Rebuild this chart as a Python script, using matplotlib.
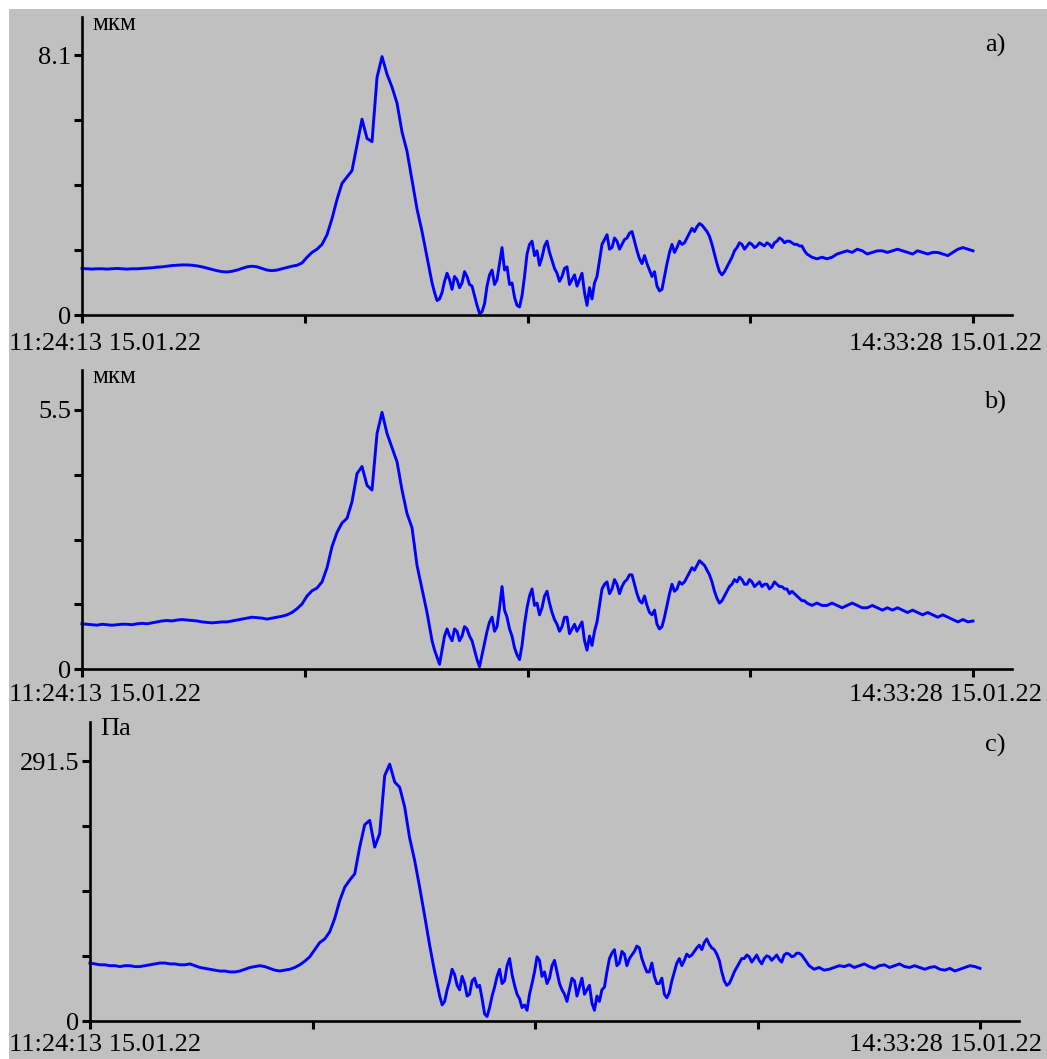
#!/usr/bin/env python3
"""Three stacked traces (two displacement channels and one pressure channel)
on a grey recorder-style background."""

import matplotlib

matplotlib.use("Agg")
import matplotlib.patches as patches
import matplotlib.pyplot as plt
import numpy as np

W, H = 1047, 1059
T_TOTAL = 11355.0  # 11:24:13 -> 14:33:28, seconds

START_LABEL = "11:24:13 15.01.22"
END_LABEL = "14:33:28 15.01.22"
PANEL_TAGS = ["a)", "b)", "c)"]
UNITS = ["мкм", "мкм", "Па"]
Y_MAX = [8.1, 5.5, 291.5]
Y_MAX_LABELS = ["8.1", "5.5", "291.5"]

# sample spans (s): quiet start + main pulse, noisy part (denser), calm tail
SEG_T = [(0.0, 4397.0), (4461.0, 9239.0), (9302.0, T_TOTAL)]

# ---- channel a, мкм
a_head = [
    1.45, 1.44, 1.43, 1.44, 1.44, 1.43, 1.44, 1.45, 1.44, 1.43, 1.44, 1.44, 1.45, 1.46,
    1.47, 1.49, 1.50, 1.52, 1.54, 1.55, 1.56, 1.56, 1.55, 1.53, 1.50, 1.46, 1.42, 1.38,
    1.35, 1.34, 1.36, 1.40, 1.45, 1.50, 1.52, 1.50, 1.45, 1.40, 1.38, 1.40, 1.44,
    1.48, 1.52, 1.55, 1.62, 1.80, 1.95, 2.05, 2.20, 2.50, 3.00, 3.60, 4.10, 4.30, 4.50,
    5.30, 6.10, 5.50, 5.40, 7.40, 8.05, 7.50, 7.10, 6.60, 5.70, 5.10, 4.20, 3.30, 2.60, 1.80,
]
a_mid = [
    1.00, 0.70, 0.45, 0.50, 0.70, 1.05, 1.30, 1.10, 0.80, 1.20, 1.10, 0.85, 1.00, 1.35,
    1.20, 0.95, 0.90, 0.60, 0.30, 0.05, 0.10, 0.35, 0.90, 1.25, 1.40, 0.95, 1.10, 1.60,
    2.10, 1.40, 1.50, 0.95, 1.00, 0.55, 0.30, 0.25, 0.60, 1.20, 1.90, 2.20, 2.30, 1.85,
    2.00, 1.55, 1.80, 2.15, 2.30, 1.95, 1.70, 1.45, 1.30, 1.05, 1.20, 1.45, 1.50, 0.95,
    1.10, 1.25, 0.90, 1.10, 1.30, 0.70, 0.30, 0.85, 0.50, 1.00, 1.20, 1.70, 2.20, 2.35,
    2.50, 2.05, 2.10, 2.40, 2.30, 2.05, 2.20, 2.35, 2.40, 2.55, 2.60, 2.30, 2.00, 1.75,
    1.60, 1.85, 1.60, 1.40, 1.20, 1.35, 0.90, 0.75, 0.80, 1.20, 1.60, 1.95, 2.20, 1.95,
    2.10, 2.30, 2.20, 2.25, 2.40, 2.55, 2.70, 2.60, 2.75, 2.85, 2.80, 2.70, 2.60, 2.45,
    2.20, 1.90, 1.60, 1.35, 1.25, 1.35, 1.50, 1.65, 1.80, 2.00, 2.10, 2.25, 2.20, 2.05,
    2.15, 2.25, 2.20, 2.10, 2.15, 2.25, 2.20, 2.15, 2.25, 2.20, 2.10, 2.25, 2.30, 2.40,
    2.35, 2.25, 2.30, 2.30, 2.25, 2.20, 2.20, 2.15, 2.15, 2.00, 1.90,
]
a_tail = [
    1.80, 1.75, 1.80, 1.75, 1.80, 1.90, 1.95, 2.00, 1.95, 2.05, 2.00, 1.90, 1.95, 2.00,
    2.00, 1.95, 2.00, 2.05, 2.00, 1.95, 1.90, 2.00, 1.95, 1.90, 1.95, 1.95, 1.90, 1.85,
    1.95, 2.05, 2.10, 2.05, 2.00,
]

# ---- channel b, мкм
b_head = [
    0.96, 0.95, 0.94, 0.93, 0.95, 0.94, 0.93, 0.94, 0.95, 0.95, 0.94, 0.96, 0.97, 0.96,
    0.98, 1.00, 1.02, 1.03, 1.02, 1.04, 1.05, 1.04, 1.03, 1.02, 1.00, 0.99, 0.98, 0.99,
    1.00, 1.00, 1.02, 1.04, 1.06, 1.08, 1.10, 1.09, 1.08, 1.06, 1.08, 1.10, 1.12,
    1.15, 1.20, 1.28, 1.38, 1.55, 1.66, 1.72, 1.85, 2.15, 2.60, 2.90, 3.10, 3.20, 3.55,
    4.15, 4.30, 3.90, 3.80, 5.00, 5.45, 5.00, 4.70, 4.40, 3.80, 3.30, 3.00, 2.20, 1.70, 1.20,
]
b_mid = [
    0.60, 0.40, 0.25, 0.10, 0.40, 0.70, 0.85, 0.70, 0.60, 0.85, 0.80, 0.60, 0.70, 0.90,
    0.85, 0.70, 0.60, 0.40, 0.20, 0.05, 0.30, 0.55, 0.80, 1.00, 1.10, 0.80, 0.90, 1.30,
    1.75, 1.25, 1.10, 0.85, 0.70, 0.45, 0.30, 0.20, 0.50, 0.95, 1.30, 1.55, 1.70, 1.35,
    1.40, 1.15, 1.30, 1.55, 1.65, 1.40, 1.20, 1.05, 0.95, 0.80, 0.90, 1.10, 1.10, 0.75,
    0.85, 0.95, 0.80, 0.90, 1.00, 0.60, 0.40, 0.70, 0.50, 0.80, 1.00, 1.35, 1.70, 1.80,
    1.85, 1.60, 1.70, 1.90, 1.80, 1.60, 1.75, 1.85, 1.90, 2.00, 2.00, 1.80, 1.60, 1.45,
    1.40, 1.55, 1.35, 1.20, 1.15, 1.25, 0.95, 0.85, 0.90, 1.10, 1.35, 1.60, 1.80, 1.65,
    1.70, 1.85, 1.80, 1.85, 1.95, 2.05, 2.15, 2.10, 2.20, 2.30, 2.25, 2.20, 2.10, 2.00,
    1.85, 1.65, 1.50, 1.40, 1.45, 1.55, 1.65, 1.75, 1.80, 1.90, 1.85, 1.95, 1.90, 1.80,
    1.80, 1.90, 1.85, 1.75, 1.80, 1.85, 1.75, 1.80, 1.80, 1.70, 1.75, 1.85, 1.80, 1.75,
    1.75, 1.70, 1.70, 1.60, 1.65, 1.60, 1.55, 1.50, 1.45, 1.45, 1.40,
]
b_tail = [
    1.35, 1.40, 1.35, 1.35, 1.40, 1.35, 1.30, 1.35, 1.40, 1.35, 1.30, 1.30, 1.35, 1.30,
    1.25, 1.30, 1.25, 1.30, 1.25, 1.20, 1.25, 1.20, 1.15, 1.20, 1.15, 1.10, 1.15, 1.10,
    1.05, 1.00, 1.05, 1.00, 1.02,
]

# ---- channel c, Па
c_head = [
    65, 64, 63, 63, 62, 62, 61, 62, 62, 61, 61, 62, 63, 64,
    65, 65, 64, 64, 63, 63, 64, 62, 60, 59, 58, 57, 56, 56,
    55, 55, 56, 58, 60, 61, 62, 61, 59, 57, 56, 57, 58,
    60, 63, 67, 72, 80, 88, 92, 100, 115, 135, 150, 158, 165, 195,
    220, 225, 195, 210, 275, 288, 268, 262, 240, 205, 180, 150, 118, 85, 55,
]
c_mid = [
    28, 18, 22, 35, 45, 58, 52, 40, 35, 50, 42, 28, 30, 45, 48, 38, 40, 25, 8, 5,
    15, 28, 38, 50, 58, 42, 45, 62, 70, 52, 40, 30, 25, 15, 18, 12, 30, 42, 55, 72,
    68, 50, 55, 42, 48, 62, 68, 55, 42, 35, 30, 22, 35, 48, 45, 28, 38, 48, 30, 35,
    40, 20, 12, 28, 22, 35, 38, 55, 70, 76, 80, 62, 65, 78, 75, 62, 70, 74, 78, 84,
    82, 70, 62, 55, 55, 65, 50, 42, 42, 48, 30, 26, 32, 45, 55, 65, 70, 62, 68, 75,
    72, 74, 78, 82, 85, 80, 88, 92, 86, 82, 80, 75, 68, 55, 45, 40, 42, 48, 55, 60,
    65, 70, 70, 74, 72, 66, 70, 74, 68, 64, 70, 73, 72, 68, 71, 74, 69, 66, 74, 76,
    75, 72, 73, 76, 76, 74, 70, 66, 62, 60, 58,
]
c_tail = [
    60, 57, 58, 60, 62, 61, 63, 60, 62, 64, 61, 59, 62, 63,
    60, 62, 64, 61, 60, 62, 60, 58, 60, 61, 58, 57, 59, 56,
    58, 60, 62, 61, 59,
]

SERIES = [(a_head, a_mid, a_tail), (b_head, b_mid, b_tail), (c_head, c_mid, c_tail)]

# panel frames in image pixels: axis x, data end x, axis line end x, zero y, max y, axis top y
FRAMES = [
    (82, 973, 1012, 315, 55, 17),
    (82, 973, 1012, 669, 410, 370),
    (90, 980, 1019, 1021, 761, 722),
]
LABEL_Y = [344, 695, 1045]
TAG_Y = [45, 402, 745]

GREY = "#c0c0c0"
BLUE = "#0000ff"
FONT = ["Liberation Serif", "DejaVu Serif"]
FS = 19


def fx(x):
    return x / W


def fy(y):
    return 1 - y / H


def sample_times(parts):
    return np.concatenate([np.linspace(t0, t1, len(p))
                           for (t0, t1), p in zip(SEG_T, parts)])


def main():
    plt.rcParams["font.family"] = FONT
    fig = plt.figure(figsize=(W / 100, H / 100), dpi=100, facecolor="white")
    fig.patches.append(patches.Rectangle(
        (fx(9), 0), 1 - fx(9), fy(9), transform=fig.transFigure,
        facecolor=GREY, edgecolor="none", zorder=-5))

    for k, parts in enumerate(SERIES):
        x0, xd, xe, y0, ym, yt = FRAMES[k]
        ax = fig.add_axes([fx(x0), fy(y0), fx(xe) - fx(x0), fy(yt) - fy(y0)])
        ax.set_facecolor("none")
        ax.set_zorder(2)

        t = sample_times(parts)
        vals = np.concatenate(parts)
        ax.plot(t, vals, color=BLUE, lw=2.1, clip_on=False)

        top = Y_MAX[k] * (y0 - yt) / (y0 - ym)
        ax.set_ylim(0, top)
        ax.set_xlim(0, T_TOTAL * (xe - x0) / (xd - x0))

        for s in ("top", "right"):
            ax.spines[s].set_visible(False)
        for s in ("left", "bottom"):
            ax.spines[s].set_linewidth(1.9)
            ax.spines[s].set_color("black")

        m = Y_MAX[k]
        ax.set_yticks([0, m / 4, m / 2, 3 * m / 4, m])
        ax.set_yticklabels(["0", "", "", "", Y_MAX_LABELS[k]])
        ax.set_xticks([0, T_TOTAL / 4, T_TOTAL / 2, 3 * T_TOTAL / 4, T_TOTAL])
        ax.set_xticklabels([])
        ax.tick_params(axis="y", direction="out", length=6, width=2.2,
                       labelsize=FS, pad=2)
        ax.tick_params(axis="x", direction="out", length=6, width=2.2)

        fig.text(fx(9), fy(LABEL_Y[k]), START_LABEL, fontsize=FS,
                 ha="left", va="center")
        fig.text(fx(1042), fy(LABEL_Y[k]), END_LABEL, fontsize=FS,
                 ha="right", va="center")
        fig.text(fx(x0 + 10), fy(yt + 7), UNITS[k], fontsize=18 if k < 2 else FS,
                 ha="left", va="center")
        fig.text(fx(1006), fy(TAG_Y[k]), PANEL_TAGS[k], fontsize=FS,
                 ha="right", va="center")

    fig.savefig("out.png", dpi=100, facecolor=fig.get_facecolor())
    plt.close(fig)


if __name__ == "__main__":
    main()
